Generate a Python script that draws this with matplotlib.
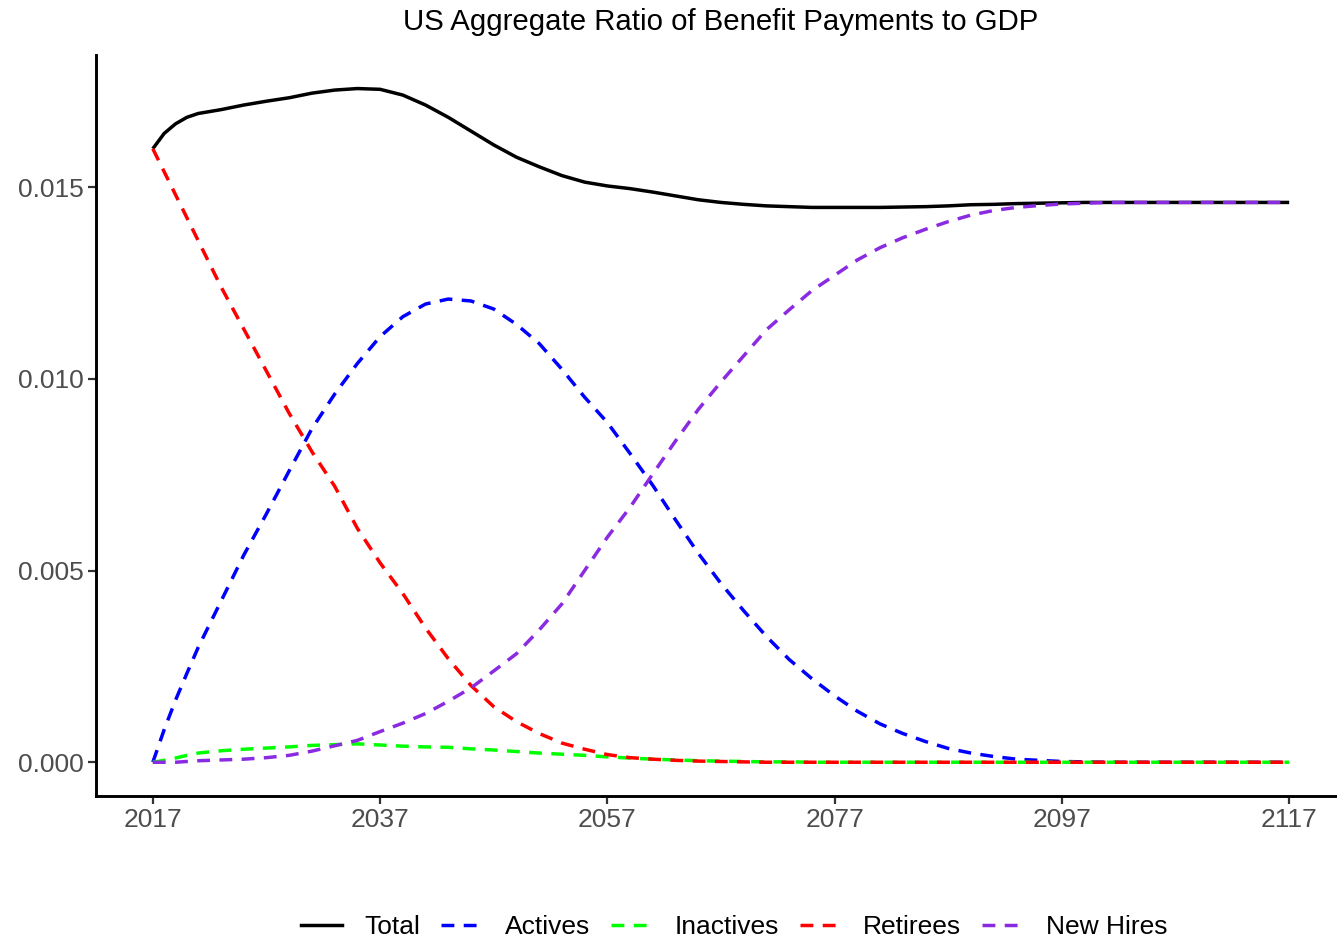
import matplotlib
matplotlib.use("Agg")
import matplotlib.pyplot as plt
from matplotlib.lines import Line2D

plt.rcParams['font.family'] = ['Liberation Sans', 'DejaVu Sans']

# ---- data ----
years = [2017, 2018, 2019, 2020, 2021, 2023, 2025, 2027, 2029, 2031, 2033, 2035,
         2037, 2039, 2041, 2043, 2045, 2047, 2049, 2051, 2053, 2055,
         2057, 2059, 2061, 2063, 2065, 2067, 2069, 2071, 2073, 2075,
         2077, 2079, 2081, 2083, 2085, 2087, 2089, 2091, 2093, 2095,
         2097, 2099, 2101, 2105, 2109, 2113, 2117]

total = [0.01600, 0.01640, 0.01665, 0.01682, 0.01692, 0.01702, 0.01714, 0.01724, 0.01733, 0.01745, 0.01753, 0.01757,
         0.01755, 0.01740, 0.01714, 0.01682, 0.01646, 0.01610, 0.01578, 0.01553, 0.01530, 0.01513,
         0.01503, 0.01496, 0.01487, 0.01477, 0.01467, 0.01460, 0.01455, 0.01451, 0.01449, 0.01447,
         0.01447, 0.01447, 0.01447, 0.01448, 0.01449, 0.01451, 0.01454, 0.01455, 0.01457, 0.01458,
         0.01459, 0.01460, 0.01460, 0.01460, 0.01460, 0.01460, 0.01460]

actives = [0.0, 0.00085, 0.00162, 0.00232, 0.00300, 0.00420, 0.00540, 0.00648, 0.00760, 0.00870, 0.00960, 0.01040,
           0.01110, 0.01162, 0.01195, 0.01208, 0.01203, 0.01182, 0.01142, 0.01092, 0.01025, 0.00952,
           0.00886, 0.00805, 0.00722, 0.00632, 0.00545, 0.00466, 0.00395, 0.00328, 0.00268, 0.00218,
           0.00173, 0.00133, 0.00100, 0.00075, 0.00054, 0.00036, 0.00024, 0.00015, 0.00008, 0.00005,
           0.00002, 0.00001, 0.0, 0.0, 0.0, 0.0, 0.0]

inactives = [0.0, 0.00005, 0.00011, 0.00018, 0.00024, 0.00030, 0.00034, 0.00037, 0.00040, 0.00044, 0.00046, 0.00048,
             0.00045, 0.00042, 0.00040, 0.00039, 0.00035, 0.00032, 0.00028, 0.00024, 0.00021, 0.00018,
             0.00014, 0.00011, 0.00008, 0.00006, 0.00004, 0.00003, 0.00002, 0.00001, 0.00001, 0.0,
             0.0, 0.0, 0.0, 0.0, 0.0, 0.0, 0.0, 0.0, 0.0, 0.0,
             0.0, 0.0, 0.0, 0.0, 0.0, 0.0, 0.0]

retirees = [0.01600, 0.01540, 0.01480, 0.01420, 0.01360, 0.01240, 0.01130, 0.01020, 0.00910, 0.00810, 0.00720, 0.00610,
            0.00520, 0.00440, 0.00350, 0.00270, 0.00200, 0.00145, 0.00106, 0.00075, 0.00050, 0.00034,
            0.00020, 0.00012, 0.00008, 0.00005, 0.00003, 0.00002, 0.00001, 0.0, 0.0, 0.0,
            0.0, 0.0, 0.0, 0.0, 0.0, 0.0, 0.0, 0.0, 0.0, 0.0,
            0.0, 0.0, 0.0, 0.0, 0.0, 0.0, 0.0]

new_hires = [0.0, 0.0, 0.0, 0.00002, 0.00004, 0.00006, 0.00008, 0.00012, 0.00018, 0.00029, 0.00043, 0.00057,
             0.00080, 0.00102, 0.00127, 0.00159, 0.00194, 0.00238, 0.00283, 0.00345, 0.00413, 0.00500,
             0.00587, 0.00665, 0.00752, 0.00838, 0.00920, 0.00992, 0.01060, 0.01128, 0.01180, 0.01230,
             0.01270, 0.01310, 0.01342, 0.01368, 0.01390, 0.01410, 0.01427, 0.01439, 0.01447, 0.01452,
             0.01456, 0.01458, 0.01460, 0.01460, 0.01460, 0.01460, 0.01460]

series_names = ["Total", "Actives", "Inactives", "Retirees", "New Hires"]
xtick_vals = [2017, 2037, 2057, 2077, 2097, 2117]
ytick_vals = [0.000, 0.005, 0.010, 0.015]
title = "US Aggregate Ratio of Benefit Payments to GDP"

# ---- figure ----
W, H = 1337, 940
fig = plt.figure(figsize=(W / 100, H / 100), dpi=100)
left_px, right_px, top_px, bot_px = 96, 1346, 55, 796
ax = fig.add_axes([left_px / W, 1 - bot_px / H, (right_px - left_px) / W, (bot_px - top_px) / H])

lw = 2.5
dash = (3.7, 2.7)
styles = [
    dict(color="black", ls="-"),
    dict(color="#0000FF", ls=(0, dash)),
    dict(color="#00FF00", ls=(0, dash)),
    dict(color="#FF0000", ls=(0, dash)),
    dict(color="#8A2BE2", ls=(0, dash)),
]
data = [total, actives, inactives, retirees, new_hires]
for name, vals, st in zip(series_names, data, styles):
    ax.plot(years, vals, color=st["color"], linestyle=st["ls"], linewidth=lw,
            solid_capstyle="butt", dash_capstyle="butt", solid_joinstyle="round",
            label=name)

ax.set_xlim(2012, 2122)
ax.set_ylim(-0.00088, 0.018445)
ax.set_xticks(xtick_vals)
ax.set_xticklabels([str(v) for v in xtick_vals])
ax.set_yticks(ytick_vals)
ax.set_yticklabels([f"{v:.3f}" for v in ytick_vals])

for s in ["top", "right"]:
    ax.spines[s].set_visible(False)
for s in ["left", "bottom"]:
    ax.spines[s].set_linewidth(2.1)
    ax.spines[s].set_color("black")
ax.tick_params(axis="both", length=5.5, width=1.6, color="#333333",
               labelcolor="#4D4D4D", labelsize=19, pad=3)

fig.text((left_px + right_px) / 2 / W, 1 - 22 / H, title, ha="center", va="center",
         fontsize=21.2, color="black")

handles = [Line2D([0], [0], color=st["color"], linestyle=st["ls"], linewidth=lw)
           for st in styles]
leg = fig.legend(handles, series_names, loc="center", bbox_to_anchor=(734 / W, 1 - 927 / H),
                 ncol=5, frameon=False, fontsize=19, handlelength=1.55, handletextpad=0.85,
                 columnspacing=0.8)
for t in leg.get_texts():
    t.set_color("black")

fig.savefig("out.png", dpi=100)
